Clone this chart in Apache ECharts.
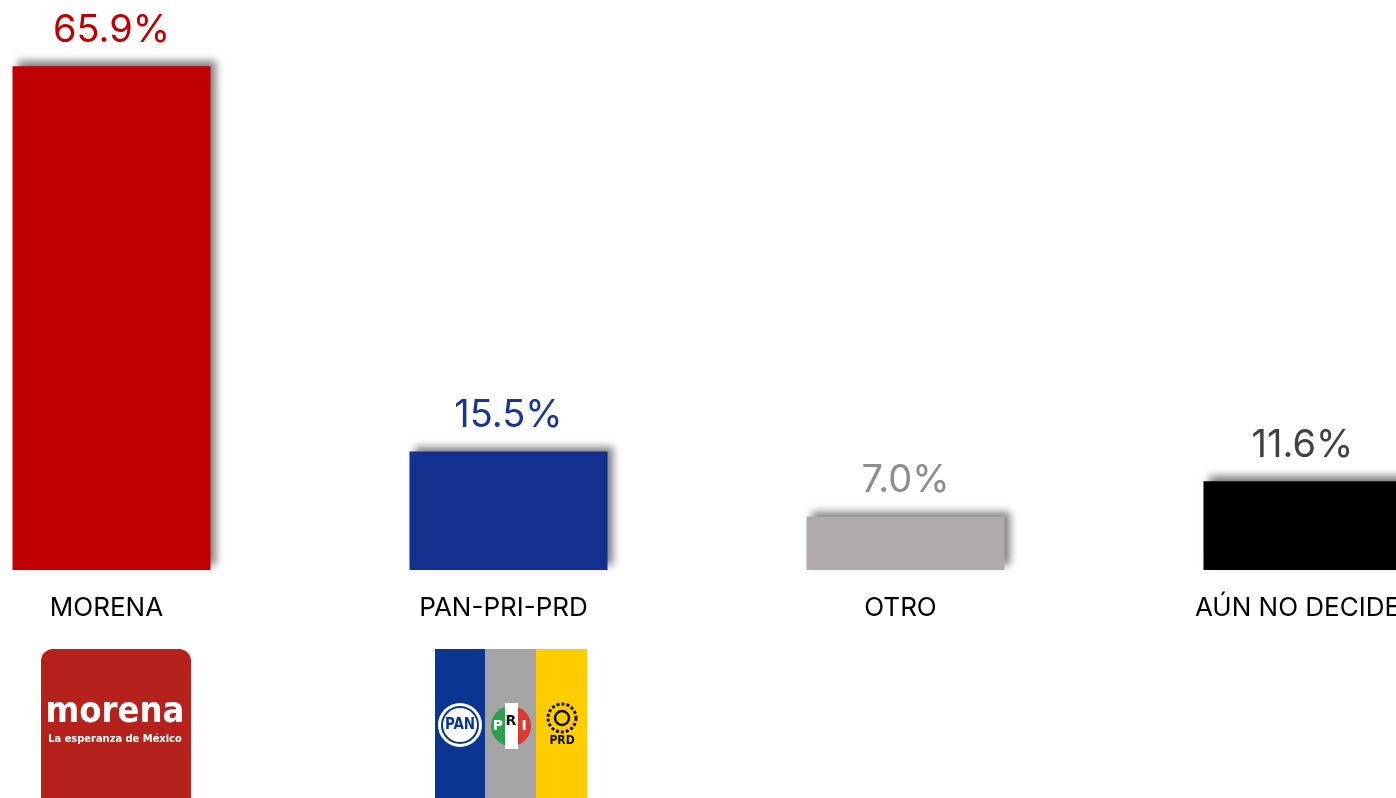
<!DOCTYPE html>
<html>
<head>
<meta charset="utf-8">
<script src="https://cdn.jsdelivr.net/npm/echarts@6/dist/echarts.min.js"></script>
<style>
  html, body { margin: 0; padding: 0; background: #fff; }
  #chart { width: 1396px; height: 798px; }
</style>
</head>
<body>
<div id="chart"></div>
<script>
// data
const categories = ['MORENA', 'PAN-PRI-PRD', 'OTRO', 'AÚN NO DECIDE']
const values = [65.9, 15.5, 7.0, 11.6]
const barColors = ['#C00000', '#13308F', '#AFABAB', '#000000']
const labelColors = ['#C00000', '#1A3590', '#8C8C8C', '#404040']

const FONT = 'Inter, "Noto Sans", sans-serif'

const chart = echarts.init(document.getElementById('chart'), null, { renderer: 'canvas' })

// logo pieces drawn as decoration below the axis
function morenaLogo() {
  return {
    type: 'group',
    x: 41,
    y: 649,
    children: [
      { type: 'rect', shape: { x: 0, y: 0, width: 150, height: 160, r: 12 }, style: { fill: '#B5221B' } },
      {
        type: 'text', x: 74, y: 82,
        style: { text: 'morena', fill: '#fff', font: 'bold 36px "DejaVu Sans Condensed", sans-serif', textAlign: 'center', textVerticalAlign: 'bottom' }
      },
      {
        type: 'text', x: 74, y: 85,
        style: { text: 'La esperanza de México', fill: '#fff', font: 'bold 11px "DejaVu Sans Condensed", sans-serif', textAlign: 'center', textVerticalAlign: 'top' }
      }
    ]
  }
}

function allianceLogo() {
  return {
    type: 'group',
    x: 435,
    y: 649,
    children: [
      { type: 'rect', shape: { x: 0, y: 0, width: 51, height: 150 }, style: { fill: '#0A3590' } },
      { type: 'rect', shape: { x: 50, y: 0, width: 51, height: 150 }, style: { fill: '#A5A5A5' } },
      { type: 'rect', shape: { x: 101, y: 0, width: 51, height: 150 }, style: { fill: '#FFCC00' } },
      // PAN
      { type: 'circle', shape: { cx: 25, cy: 76, r: 22 }, style: { fill: '#fff' } },
      { type: 'circle', shape: { cx: 25, cy: 76, r: 19 }, style: { fill: '#0A3590' } },
      { type: 'circle', shape: { cx: 25, cy: 76, r: 17 }, style: { fill: '#fff' } },
      {
        type: 'text', x: 25, y: 76,
        style: { text: 'PAN', fill: '#0A3590', font: 'bold 15px "DejaVu Sans Condensed", sans-serif', textAlign: 'center', textVerticalAlign: 'middle' }
      },
      // PRI
      { type: 'sector', shape: { cx: 76, cy: 77, r0: 0, r: 20, startAngle: Math.PI / 2, endAngle: Math.PI * 1.5 }, style: { fill: '#2E9E4F' } },
      { type: 'sector', shape: { cx: 76, cy: 77, r0: 0, r: 20, startAngle: -Math.PI / 2, endAngle: Math.PI / 2 }, style: { fill: '#D83A34' } },
      { type: 'rect', shape: { x: 70, y: 54, width: 13, height: 46 }, style: { fill: '#fff' } },
      {
        type: 'text', x: 63, y: 77,
        style: { text: 'P', fill: '#fff', font: 'bold 14px "DejaVu Sans", sans-serif', textAlign: 'center', textVerticalAlign: 'middle' }
      },
      {
        type: 'text', x: 76, y: 72,
        style: { text: 'R', fill: '#111', font: 'bold 14px "DejaVu Sans", sans-serif', textAlign: 'center', textVerticalAlign: 'middle' }
      },
      {
        type: 'text', x: 89, y: 77,
        style: { text: 'I', fill: '#fff', font: 'bold 14px "DejaVu Sans", sans-serif', textAlign: 'center', textVerticalAlign: 'middle' }
      },
      // PRD
      { type: 'circle', shape: { cx: 127, cy: 69, r: 14 }, style: { fill: 'none', stroke: '#111', lineWidth: 3, lineDash: [3, 2] } },
      { type: 'circle', shape: { cx: 127, cy: 69, r: 7 }, style: { fill: 'none', stroke: '#111', lineWidth: 2.5 } },
      {
        type: 'text', x: 127, y: 92,
        style: { text: 'PRD', fill: '#111', font: 'bold 12px "DejaVu Sans Condensed", sans-serif', textAlign: 'center', textVerticalAlign: 'middle' }
      }
    ]
  }
}

const option = {
  backgroundColor: '#fff',
  animation: false,
  grid: {
    left: -87,
    right: -105,
    top: 35,
    bottom: 228,
    containLabel: false,
    outerBoundsMode: 'none'
  },
  xAxis: {
    type: 'category',
    data: categories,
    axisLine: { show: false },
    axisTick: { show: false },
    axisLabel: {
      interval: 0,
      margin: 25,
      color: '#000',
      fontSize: 26,
      fontFamily: FONT,
      padding: [0, 10, 0, 0]
    }
  },
  yAxis: {
    type: 'value',
    min: 0,
    max: 70,
    show: false,
    splitLine: { show: false }
  },
  series: [
    {
      type: 'bar',
      barWidth: 198,
      data: values.map((v, i) => ({
        value: v,
        itemStyle: { color: barColors[i] },
        label: { color: labelColors[i] }
      })),
      itemStyle: {
        shadowBlur: 8,
        shadowColor: 'rgba(0,0,0,0.5)',
        shadowOffsetX: 5,
        shadowOffsetY: -5
      },
      label: {
        show: true,
        position: 'top',
        distance: 17,
        fontSize: 38,
        fontFamily: FONT,
        formatter: (p) => p.value.toFixed(1) + '%'
      }
    }
  ],
  graphic: [morenaLogo(), allianceLogo()]
}

chart.setOption(option)
</script>
</body>
</html>
